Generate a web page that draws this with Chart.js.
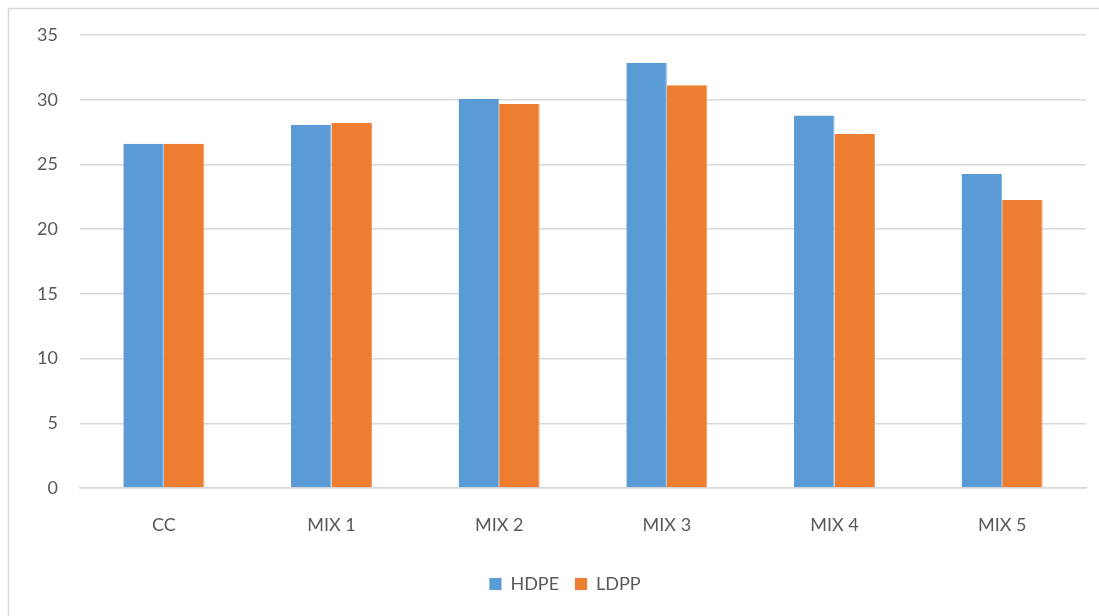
<!DOCTYPE html>
<html>
<head>
<meta charset="utf-8">
<script src="https://cdn.jsdelivr.net/npm/chart.js@4/dist/chart.umd.min.js"></script>
<style>
  html, body { margin: 0; padding: 0; background: #ffffff; }
  #wrap { width: 1099px; height: 616px; position: relative; }
</style>
</head>
<body>
<div id="wrap"><canvas id="c" width="1099" height="616"></canvas></div>
<script>
// Mix designs and measured values for each plastic type
const categories = ['CC', 'MIX 1', 'MIX 2', 'MIX 3', 'MIX 4', 'MIX 5'];
const hdpeValues = [26.6, 28.06, 30.08, 32.86, 28.78, 24.27];
const ldppValues = [26.6, 28.22, 29.66, 31.11, 27.36, 22.25];
const seriesNames = ['HDPE', 'LDPP'];
const yTicks = [0, 5, 10, 15, 20, 25, 30, 35];

const FONT = "Lato, 'Open Sans', 'Liberation Sans', sans-serif";
const TEXT = '#595959';
const GRID = '#d9d9d9';

// light grey frame around the whole chart
const framePlugin = {
  id: 'frame',
  beforeDraw(chart) {
    const ctx = chart.ctx;
    ctx.save();
    ctx.fillStyle = '#ffffff';
    ctx.fillRect(0, 0, chart.width, chart.height);
    ctx.strokeStyle = GRID;
    ctx.lineWidth = 1.5;
    ctx.strokeRect(8.5, 8.5, chart.width + 20, chart.height + 20);
    ctx.restore();
  }
};

// centre the legend under the plot area rather than the whole canvas
const legendShift = {
  id: 'legendShift',
  afterLayout(chart) {
    const lg = chart.legend;
    if (!lg) return;
    const dx = (chart.chartArea.left + chart.chartArea.right) / 2 - 18 - (lg.left + lg.right) / 2;
    lg.left += dx;
    lg.right += dx;
  }
};

new Chart(document.getElementById('c'), {
  type: 'bar',
  data: {
    labels: categories,
    datasets: [
      { label: seriesNames[0], data: hdpeValues, backgroundColor: '#5b9bd5',
        borderColor: '#7fb0de', borderWidth: { right: 1 } },
      { label: seriesNames[1], data: ldppValues, backgroundColor: '#ed7d31',
        borderColor: '#f29a5e', borderWidth: { right: 1 } }
    ]
  },
  options: {
    responsive: false,
    animation: false,
    devicePixelRatio: 1,
    layout: { padding: { left: 0, right: 13, top: 35, bottom: 13 } },
    datasets: { bar: { categoryPercentage: 0.483, barPercentage: 1.0 } },
    scales: {
      x: {
        grid: { display: false, drawTicks: false },
        border: { display: true, color: GRID, width: 1.5 },
        ticks: { color: TEXT, font: { family: FONT, size: 18 }, padding: 26 },
        afterFit(scale) { scale.height = 71; }
      },
      y: {
        min: 0, max: 35,
        afterBuildTicks(scale) { scale.ticks = yTicks.map(v => ({ value: v })); },
        grid: { color: GRID, lineWidth: 1.5, drawTicks: false },
        border: { display: false },
        ticks: { color: TEXT, font: { family: FONT, size: 18 }, padding: 22 },
        afterFit(scale) { scale.width = 80; }
      }
    },
    plugins: {
      legend: {
        position: 'bottom',
        labels: {
          color: TEXT,
          font: { family: FONT, size: 18 },
          boxWidth: 12, boxHeight: 12,
          padding: 16
        }
      },
      tooltip: { enabled: false }
    }
  },
  plugins: [framePlugin, legendShift]
});
</script>
</body>
</html>
